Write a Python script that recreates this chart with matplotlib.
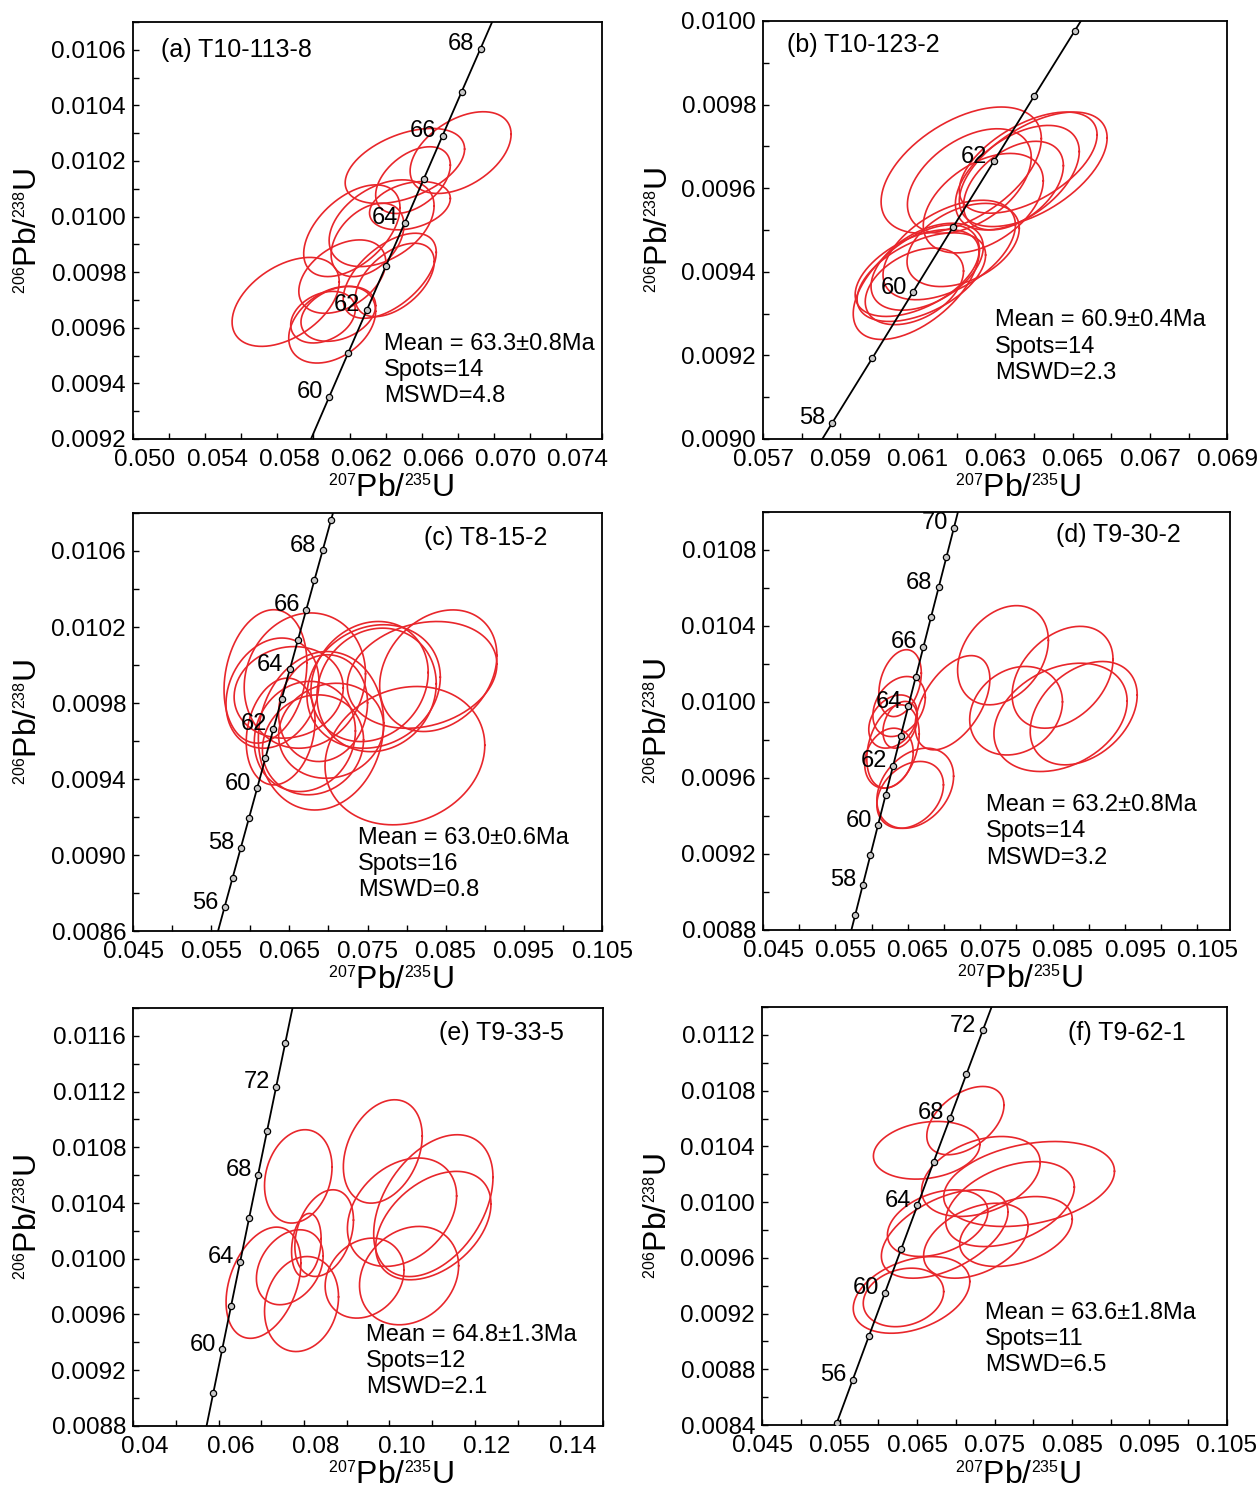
import numpy as np
import matplotlib
matplotlib.use("Agg")
import matplotlib.pyplot as plt
import matplotlib.transforms as mtransforms
import matplotlib._mathtext as _mt
from matplotlib.ticker import AutoMinorLocator, FormatStrFormatter

# smaller isotope superscripts in the axis titles
_mt.SHRINK_FACTOR = 0.5

plt.rcParams['font.family'] = ['Liberation Sans', 'DejaVu Sans']
plt.rcParams['mathtext.fontset'] = 'custom'
plt.rcParams['mathtext.rm'] = 'Liberation Sans'
plt.rcParams['mathtext.it'] = 'Liberation Sans:italic'
plt.rcParams['mathtext.bf'] = 'Liberation Sans:bold'

# concordia points, one per Ma
ages = list(range(52, 77))
conc_207 = [0.052546, 0.053583, 0.054621, 0.055661, 0.056701, 0.057742, 0.058784,
            0.059827, 0.060872, 0.061917, 0.062963, 0.064011, 0.065059, 0.066109,
            0.067159, 0.068211, 0.069263, 0.070317, 0.071371, 0.072427, 0.073483,
            0.074541, 0.075600, 0.076660, 0.077721]
conc_206 = [0.008099, 0.008256, 0.008412, 0.008568, 0.008725, 0.008881, 0.009038,
            0.009194, 0.009351, 0.009508, 0.009664, 0.009821, 0.009977, 0.010134,
            0.010291, 0.010448, 0.010604, 0.010761, 0.010918, 0.011075, 0.011232,
            0.011388, 0.011545, 0.011702, 0.011858]

# spots: 207Pb/235U, 1s, 206Pb/238U, 1s, rho
spots_a = [
    (0.05846, 0.00297, 0.009693, 0.000160, 0.45),
    (0.06104, 0.00241, 0.009611, 0.000138, 0.35),
    (0.06138, 0.00207, 0.009650, 0.0000988, 0.30),
    (0.06160, 0.00241, 0.009784, 0.000132, 0.40),
    (0.06423, 0.00258, 0.009787, 0.000153, 0.55),
    (0.06451, 0.00219, 0.009772, 0.000132, 0.50),
    (0.06213, 0.00267, 0.009949, 0.000165, 0.50),
    (0.06378, 0.00291, 0.009976, 0.000156, 0.40),
    (0.06300, 0.00202, 0.009916, 0.000132, 0.40),
    (0.06535, 0.00224, 0.010039, 0.0000868, 0.30),
    (0.06507, 0.00331, 0.010182, 0.000135, 0.45),
    (0.06552, 0.00207, 0.010131, 0.000120, 0.45),
    (0.06816, 0.00280, 0.010230, 0.000147, 0.45),
    (0.06053, 0.00179, 0.009638, 0.0000928, 0.30),
]
spots_b = [
    (0.06212, 0.00207, 0.009643, 0.000151, 0.50),
    (0.06233, 0.00160, 0.009617, 0.000125, 0.45),
    (0.06269, 0.00155, 0.009564, 0.000119, 0.45),
    (0.06385, 0.00178, 0.009661, 0.000121, 0.55),
    (0.06398, 0.00191, 0.009645, 0.000137, 0.55),
    (0.06357, 0.00160, 0.009625, 0.000125, 0.50),
    (0.06347, 0.00129, 0.009606, 0.000106, 0.45),
    (0.06096, 0.00163, 0.009375, 0.000137, 0.55),
    (0.06109, 0.00166, 0.009387, 0.000106, 0.50),
    (0.06091, 0.00127, 0.009365, 0.0000916, 0.40),
    (0.06181, 0.00171, 0.009452, 0.000119, 0.50),
    (0.06217, 0.00145, 0.009464, 0.0000995, 0.40),
    (0.06098, 0.00160, 0.009397, 0.000104, 0.50),
    (0.06124, 0.00145, 0.009412, 0.000104, 0.45),
]
spots_c = [
    (0.06194, 0.00530, 0.009940, 0.000351, 0.20),
    (0.06284, 0.00595, 0.009852, 0.000290, 0.20),
    (0.06491, 0.00698, 0.009856, 0.000241, 0.10),
    (0.06698, 0.00776, 0.009918, 0.000356, 0.10),
    (0.06388, 0.00440, 0.009650, 0.000281, 0.20),
    (0.06698, 0.00647, 0.009624, 0.000290, 0.10),
    (0.06905, 0.00802, 0.009654, 0.000417, 0.10),
    (0.06802, 0.00647, 0.009580, 0.000263, 0.10),
    (0.07034, 0.00672, 0.009654, 0.000250, 0.10),
    (0.07578, 0.00853, 0.009887, 0.000325, 0.15),
    (0.07526, 0.00750, 0.009913, 0.000316, 0.15),
    (0.07616, 0.00763, 0.009869, 0.000325, 0.10),
    (0.07978, 0.01022, 0.009523, 0.000364, 0.15),
    (0.08405, 0.00750, 0.009970, 0.000320, 0.25),
    (0.08198, 0.00957, 0.009948, 0.000281, 0.20),
    (0.06931, 0.00569, 0.009773, 0.000281, 0.10),
]
spots_d = [
    (0.06393, 0.00293, 0.010099, 0.000176, 0.30),
    (0.06379, 0.00362, 0.009976, 0.000158, 0.30),
    (0.06295, 0.00335, 0.009897, 0.000140, 0.30),
    (0.06295, 0.00362, 0.009766, 0.000219, 0.30),
    (0.06239, 0.00335, 0.009704, 0.000158, 0.20),
    (0.06393, 0.00237, 0.009880, 0.000123, 0.30),
    (0.06602, 0.00530, 0.009546, 0.000211, 0.30),
    (0.06532, 0.00460, 0.009511, 0.000176, 0.30),
    (0.07117, 0.00516, 0.009996, 0.000248, 0.50),
    (0.07814, 0.00627, 0.010246, 0.000261, 0.30),
    (0.08637, 0.00697, 0.010130, 0.000268, 0.35),
    (0.07995, 0.00641, 0.009954, 0.000233, 0.20),
    (0.08609, 0.00920, 0.009919, 0.000285, 0.30),
    (0.08929, 0.00739, 0.009941, 0.000272, 0.35),
]
spots_e = [
    (0.07867, 0.00790, 0.010591, 0.000335, 0.20),
    (0.08056, 0.00346, 0.010098, 0.000227, 0.20),
    (0.07053, 0.00876, 0.009828, 0.000399, 0.35),
    (0.07668, 0.00781, 0.009939, 0.000269, 0.30),
    (0.07943, 0.00866, 0.009675, 0.000341, 0.15),
    (0.08473, 0.00686, 0.010184, 0.000311, 0.30),
    (0.09845, 0.00923, 0.010770, 0.000371, 0.30),
    (0.09419, 0.00923, 0.009861, 0.000287, 0.20),
    (0.10295, 0.01278, 0.010334, 0.000389, 0.30),
    (0.11028, 0.01396, 0.010381, 0.000509, 0.40),
    (0.11028, 0.01349, 0.010238, 0.000389, 0.40),
    (0.10460, 0.01160, 0.009879, 0.000353, 0.20),
]
spots_f = [
    (0.07124, 0.00498, 0.010585, 0.000245, 0.45),
    (0.06624, 0.00687, 0.010372, 0.000207, 0.20),
    (0.07324, 0.00765, 0.010184, 0.000287, 0.35),
    (0.07946, 0.01102, 0.010130, 0.000305, 0.30),
    (0.07700, 0.00830, 0.009986, 0.000305, 0.40),
    (0.06766, 0.00648, 0.009849, 0.000239, 0.35),
    (0.06857, 0.00817, 0.009771, 0.000317, 0.50),
    (0.07259, 0.00674, 0.009723, 0.000269, 0.40),
    (0.07777, 0.00726, 0.009789, 0.000251, 0.35),
    (0.06429, 0.00752, 0.009334, 0.000275, 0.35),
    (0.06325, 0.00519, 0.009316, 0.000210, 0.20),
]

names = ["(a) T10-113-8", "(b) T10-123-2", "(c) T8-15-2",
         "(d) T9-30-2", "(e) T9-33-5", "(f) T9-62-1"]
means = ["63.3\u00b10.8", "60.9\u00b10.4", "63.0\u00b10.6",
         "63.2\u00b10.8", "64.8\u00b11.3", "63.6\u00b11.8"]
n_spots = [14, 14, 16, 14, 12, 11]
mswd = ["4.8", "2.3", "0.8", "3.2", "2.1", "6.5"]

marked_ages = [range(60, 69), range(58, 65), range(56, 70),
               range(57, 71), range(58, 75, 2), range(54, 73, 2)]
labelled_ages = [[60, 62, 64, 66, 68], [58, 60, 62], [56, 58, 60, 62, 64, 66, 68],
                 [58, 60, 62, 64, 66, 68, 70], [60, 64, 68, 72], [56, 60, 64, 68, 72]]

panels = [
    dict(spots=spots_a, rect=[0.1056, 0.7060, 0.3722, 0.2793],
         xlim=(0.050, 0.076), xt=(0.050, 0.074, 0.004), xfmt='%.3f',
         ylim=(0.0092, 0.0107), yt=(0.0092, 0.0106, 0.0002),
         name_at=(0.06, 0.933), stats_at=(0.535, 0.255), shift=12),
    dict(spots=spots_b, rect=[0.6056, 0.7060, 0.3686, 0.2800],
         xlim=(0.057, 0.069), xt=(0.057, 0.069, 0.002), xfmt='%.3f',
         ylim=(0.0090, 0.0100), yt=(0.0090, 0.0100, 0.0002),
         name_at=(0.052, 0.943), stats_at=(0.50, 0.31), shift=0),
    dict(spots=spots_c, rect=[0.1056, 0.3764, 0.3722, 0.2800],
         xlim=(0.045, 0.105), xt=(0.045, 0.105, 0.010), xfmt='%.3f',
         ylim=(0.0086, 0.0108), yt=(0.0086, 0.0106, 0.0004),
         name_at=(0.62, 0.94), stats_at=(0.48, 0.25), shift=0),
    dict(spots=spots_d, rect=[0.6056, 0.3771, 0.3706, 0.2800],
         xlim=(0.045, 0.1095), xt=(0.045, 0.105, 0.010), xfmt='%.3f',
         ylim=(0.0088, 0.0110), yt=(0.0088, 0.0108, 0.0004),
         name_at=(0.627, 0.945), stats_at=(0.477, 0.325), shift=10),
    dict(spots=spots_e, rect=[0.1056, 0.0449, 0.3730, 0.2800],
         xlim=(0.04, 0.15), xt=(0.04, 0.14, 0.02), xfmt='%.2f',
         ylim=(0.0088, 0.0118), yt=(0.0088, 0.0116, 0.0004),
         name_at=(0.65, 0.94), stats_at=(0.495, 0.245), shift=12),
    dict(spots=spots_f, rect=[0.6048, 0.0455, 0.3690, 0.2800],
         xlim=(0.045, 0.105), xt=(0.045, 0.105, 0.010), xfmt='%.3f',
         ylim=(0.0084, 0.0114), yt=(0.0084, 0.0112, 0.0004),
         name_at=(0.658, 0.938), stats_at=(0.48, 0.295), shift=0),
]

red = '#e8262b'
theta = np.linspace(0, 2 * np.pi, 241)
conc_x = np.array(conc_207)
conc_y = np.array(conc_206)

fig = plt.figure(figsize=(12.6, 14.93), dpi=100)
axes = []
for i, p in enumerate(panels):
    ax = fig.add_axes(p['rect'])
    axes.append(ax)

    # error ellipses from ratio, 1s and error correlation
    for x, sx, y, sy, r in p['spots']:
        ex = x + sx * np.cos(theta)
        ey = y + sy * (r * np.cos(theta) + np.sqrt(1 - r * r) * np.sin(theta))
        ax.plot(ex, ey, color=red, lw=1.2, zorder=2)

    ax.plot(conc_x, conc_y, color='black', lw=1.3, zorder=3)
    sel = [ages.index(a) for a in marked_ages[i]]
    ax.plot(conc_x[sel], conc_y[sel], 'o', ms=4.5, mfc='#c8c8c8', mec='black',
            mew=0.9, zorder=4)
    for a in labelled_ages[i]:
        k = ages.index(a)
        ax.annotate(str(a), (conc_x[k], conc_y[k]), xytext=(-4.5, -1),
                    textcoords='offset points', ha='right', va='baseline',
                    fontsize=17, zorder=5)

    ax.set_xlim(*p['xlim'])
    ax.set_ylim(*p['ylim'])
    x0, x1, dx = p['xt']
    y0, y1, dy = p['yt']
    ax.set_xticks(np.arange(x0, x1 + dx / 10, dx))
    ax.set_yticks(np.arange(y0, y1 + dy / 10, dy))
    ax.xaxis.set_major_formatter(FormatStrFormatter(p['xfmt']))
    ax.yaxis.set_major_formatter(FormatStrFormatter('%.4f'))
    ax.xaxis.set_minor_locator(AutoMinorLocator(2))
    ax.yaxis.set_minor_locator(AutoMinorLocator(2))
    ax.tick_params(which='both', direction='in', top=False, right=False,
                   length=4, width=1.0, labelsize=17.5)
    ax.tick_params(axis='x', pad=7)
    ax.tick_params(axis='y', pad=5)
    for s in ax.spines.values():
        s.set_linewidth(1.3)

    ax.set_xlabel(r'$^{207}$Pb/$^{235}$U', fontsize=23)
    ax.set_ylabel(r'$^{206}$Pb/$^{238}$U', fontsize=23)
    ax.xaxis.set_label_coords(0.55, -0.085)
    ax.yaxis.set_label_coords(-0.19, 0.5)

    ax.text(p['name_at'][0], p['name_at'][1], names[i], transform=ax.transAxes,
            ha='left', va='center', fontsize=18)
    stats = "Mean = %sMa\nSpots=%d\nMSWD=%s" % (means[i], n_spots[i], mswd[i])
    ax.text(p['stats_at'][0], p['stats_at'][1], stats, transform=ax.transAxes,
            ha='left', va='top', fontsize=17, linespacing=1.25)

# some panels have their x tick labels nudged to the right
fig.canvas.draw()
for ax, p in zip(axes, panels):
    if p['shift']:
        off = mtransforms.ScaledTranslation(p['shift'] / 100, 0, fig.dpi_scale_trans)
        for lab in ax.get_xticklabels():
            lab.set_transform(lab.get_transform() + off)

fig.savefig('out.png', dpi=100, facecolor='white')
